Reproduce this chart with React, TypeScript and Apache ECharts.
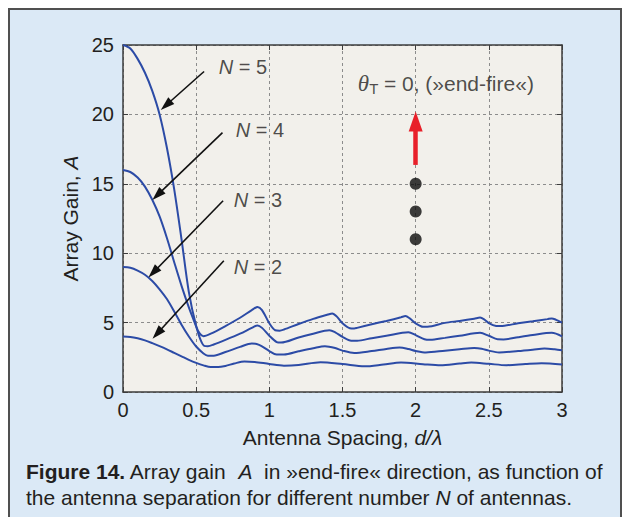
import React, { useEffect, useRef } from "react";
import * as echarts from "echarts";

// ---------- data ----------
const xTicks = [0, 0.5, 1, 1.5, 2, 2.5, 3];
const yTicks = [0, 5, 10, 15, 20, 25];

const gainN5: [number, number][] = [
  [0, 25], [0.05, 24.75], [0.1, 24.0], [0.15, 23.0], [0.2, 21.7], [0.25, 20.0], [0.3, 17.6],
  [0.35, 14.6], [0.4, 11.0], [0.45, 7.2], [0.5, 4.75], [0.525, 4.2], [0.55, 4.02], [0.6, 4.2],
  [0.7, 4.75], [0.8, 5.35], [0.88, 5.9], [0.92, 6.13], [0.95, 5.9], [1.0, 4.95], [1.04, 4.45],
  [1.07, 4.42], [1.1, 4.5], [1.2, 4.9], [1.3, 5.27], [1.4, 5.58], [1.43, 5.66], [1.46, 5.45],
  [1.5, 4.95], [1.55, 4.6], [1.58, 4.58], [1.6, 4.62], [1.7, 4.88], [1.8, 5.12], [1.9, 5.38],
  [1.93, 5.47], [1.96, 5.3], [2.0, 4.95], [2.05, 4.7], [2.08, 4.7], [2.2, 4.98], [2.3, 5.12],
  [2.4, 5.28], [2.44, 5.36], [2.47, 5.22], [2.5, 4.97], [2.55, 4.76], [2.58, 4.75], [2.7, 4.95],
  [2.8, 5.1], [2.9, 5.25], [2.93, 5.3], [2.96, 5.2], [3.0, 5.0],
];
const gainN4: [number, number][] = [
  [0, 16], [0.05, 15.85], [0.1, 15.45], [0.15, 14.8], [0.2, 13.85], [0.25, 12.65], [0.3, 11.1],
  [0.35, 9.35], [0.4, 7.65], [0.45, 6.1], [0.5, 4.7], [0.53, 3.75], [0.555, 3.32], [0.58, 3.3],
  [0.62, 3.42], [0.7, 3.75], [0.8, 4.2], [0.88, 4.62], [0.92, 4.8], [0.95, 4.62], [1.0, 4.05],
  [1.05, 3.6], [1.08, 3.56], [1.2, 3.93], [1.3, 4.2], [1.41, 4.45], [1.45, 4.3], [1.5, 3.97],
  [1.56, 3.7], [1.6, 3.7], [1.7, 3.88], [1.8, 4.05], [1.95, 4.3], [2.0, 4.1], [2.06, 3.8],
  [2.1, 3.76], [2.2, 3.9], [2.3, 4.05], [2.44, 4.26], [2.5, 4.05], [2.56, 3.8], [2.6, 3.79],
  [2.7, 3.95], [2.8, 4.1], [2.93, 4.26], [3.0, 4.0],
];
const gainN3: [number, number][] = [
  [0, 9], [0.05, 8.95], [0.1, 8.75], [0.15, 8.45], [0.2, 8.0], [0.25, 7.4], [0.3, 6.7],
  [0.35, 5.8], [0.4, 4.85], [0.45, 4.0], [0.5, 3.28], [0.55, 2.78], [0.58, 2.62], [0.62, 2.62],
  [0.7, 2.88], [0.8, 3.25], [0.88, 3.5], [0.93, 3.4], [1.0, 2.95], [1.05, 2.7], [1.1, 2.7],
  [1.2, 2.93], [1.3, 3.15], [1.38, 3.3], [1.45, 3.17], [1.5, 2.98], [1.58, 2.81], [1.7, 2.95],
  [1.8, 3.1], [1.89, 3.2], [1.95, 3.1], [2.0, 2.96], [2.07, 2.85], [2.2, 2.98], [2.3, 3.08],
  [2.4, 3.17], [2.45, 3.12], [2.5, 2.98], [2.57, 2.85], [2.7, 2.95], [2.8, 3.05], [2.88, 3.14],
  [2.95, 3.08], [3.0, 3.0],
];
const gainN2: [number, number][] = [
  [0, 4.0], [0.05, 3.97], [0.1, 3.87], [0.15, 3.72], [0.2, 3.52], [0.25, 3.3], [0.3, 3.07],
  [0.35, 2.82], [0.4, 2.57], [0.45, 2.32], [0.5, 2.1], [0.55, 1.92], [0.6, 1.8], [0.65, 1.8],
  [0.7, 1.88], [0.76, 2.05], [0.83, 2.2], [0.9, 2.17], [1.0, 2.02], [1.1, 1.9], [1.2, 1.95],
  [1.35, 2.15], [1.5, 2.02], [1.65, 1.85], [1.78, 1.98], [1.9, 2.12], [2.05, 2.0], [2.17, 1.92],
  [2.3, 2.05], [2.38, 2.12], [2.5, 2.03], [2.62, 1.93], [2.75, 2.02], [2.86, 2.08], [3.0, 1.98],
];

const seriesN = [5, 4, 3, 2];
const seriesData = [gainN5, gainN4, gainN3, gainN2];

// antenna dots (x = 2)
const dotsX = [2, 2, 2];
const dotsY = [15, 13, 11];

// annotation anchors (data coordinates)
const labelAnchors: [number, number][] = [
  [0.655, 23.43], [0.771, 18.88], [0.757, 13.83], [0.757, 9.0],
];
const arrowTails: [number, number][] = [
  [0.554, 23.09], [0.68, 18.69], [0.684, 13.78], [0.689, 9.45],
];
const arrowHeads: [number, number][] = [
  [0.294, 20.66], [0.235, 14.18], [0.207, 8.61], [0.234, 4.21],
];
const steerTail: [number, number] = [2, 16.36];
const steerHead: [number, number] = [2, 19.48];
const steerTextAnchor: [number, number] = [1.605, 22.2];

// ---------- styles ----------
const FONT = "'Liberation Sans', Arial, Helvetica, sans-serif";
const INK = "#231f20";
const AXIS = "#3c3c3c";
const BLUE = "#2c4ba6";

export default function App() {
  const ref = useRef<HTMLDivElement>(null);

  useEffect(() => {
    const chart = echarts.init(ref.current!, null, { renderer: "svg" });

    const axisCommon = {
      type: "value" as const,
      axisLine: { show: true, onZero: false, lineStyle: { color: AXIS, width: 1.5 } },
      axisTick: { show: true, inside: true, length: 5, lineStyle: { color: AXIS, width: 1 } },
    };

    const option: any = {
      animation: false,
      backgroundColor: "transparent",
      textStyle: { fontFamily: FONT },
      grid: {
        left: 123,
        right: 64,
        top: 45,
        bottom: 125,
        show: true,
        backgroundColor: "#f2f0eb",
        borderWidth: 0,
      },
      xAxis: [
        {
          ...axisCommon,
          position: "bottom",
          min: xTicks[0],
          max: xTicks[xTicks.length - 1],
          interval: 0.5,
          axisLabel: { fontSize: 20, color: INK, margin: 8, fontFamily: FONT },
          splitLine: { show: true, lineStyle: { color: "#8c8c8c", type: [3, 3], width: 1 } },
          name: "Antenna Spacing, {i|d/λ}",
          nameLocation: "middle",
          nameGap: 35,
          nameTextStyle: {
            fontSize: 21,
            color: INK,
            fontFamily: FONT,
            rich: { i: { fontSize: 21, fontStyle: "italic", color: INK, fontFamily: FONT } },
          },
        },
        {
          ...axisCommon,
          position: "top",
          min: xTicks[0],
          max: xTicks[xTicks.length - 1],
          interval: 0.5,
          axisLabel: { show: false },
          splitLine: { show: false },
        },
      ],
      yAxis: [
        {
          ...axisCommon,
          position: "left",
          min: yTicks[0],
          max: yTicks[yTicks.length - 1],
          interval: 5,
          axisLabel: { fontSize: 20, color: INK, margin: 9, fontFamily: FONT },
          splitLine: { show: true, lineStyle: { color: "#8c8c8c", type: [3, 3], width: 1 } },
          name: "Array Gain, {i|A}",
          nameLocation: "middle",
          nameGap: 35,
          nameTextStyle: {
            fontSize: 21,
            color: INK,
            fontFamily: FONT,
            rich: { i: { fontSize: 21, fontStyle: "italic", color: INK, fontFamily: FONT } },
          },
        },
        {
          ...axisCommon,
          position: "right",
          min: yTicks[0],
          max: yTicks[yTicks.length - 1],
          interval: 5,
          axisLabel: { show: false },
          splitLine: { show: false },
        },
      ],
      series: [
        ...seriesData.map((d, i) => ({
          name: `N = ${seriesN[i]}`,
          type: "line",
          data: d,
          showSymbol: false,
          smooth: 0.3,
          lineStyle: { color: BLUE, width: 2 },
          silent: true,
          z: 3,
        })),
        {
          name: "antennas",
          type: "scatter",
          data: dotsX.map((x, i) => [x, dotsY[i]]),
          symbol: "circle",
          symbolSize: 12,
          itemStyle: { color: "#0d0d0d" },
          silent: true,
          z: 4,
          markLine: {
            silent: true,
            animation: false,
            symbol: ["none", "triangle"],
            symbolSize: [9, 14],
            label: { show: false },
            emphasis: { disabled: true },
            lineStyle: { color: "#111", width: 1.6, type: "solid" },
            itemStyle: { color: "#111" },
            data: arrowTails.map((t, i) => [{ coord: t }, { coord: arrowHeads[i] }]),
          },
        },
        {
          name: "labels",
          type: "scatter",
          symbolSize: 0,
          silent: true,
          z: 5,
          data: [
            ...labelAnchors.map((p, i) => ({ value: p, txt: `{i|N} = ${seriesN[i]}` })),
            { value: steerTextAnchor, txt: "{th|θ}{sub|T} {big|= 0, (»end-fire«)}" },
          ],
          label: {
            show: true,
            position: "right",
            distance: 0,
            formatter: (p: any) => p.data.txt,
            fontSize: 20,
            lineHeight: 24,
            color: INK,
            fontFamily: FONT,
            rich: {
              i: { fontSize: 20, lineHeight: 24, fontStyle: "italic", color: INK, fontFamily: FONT },
              big: { fontSize: 21, lineHeight: 24, color: INK, fontFamily: FONT },
              th: {
                fontSize: 23,
                lineHeight: 24,
                fontStyle: "italic",
                color: INK,
                fontFamily: "'Liberation Serif', 'Times New Roman', serif",
              },
              sub: { fontSize: 15, lineHeight: 14, verticalAlign: "bottom", color: INK, fontFamily: FONT },
            },
          },
          markLine: {
            silent: true,
            animation: false,
            symbol: ["none", "triangle"],
            symbolSize: [14, 20],
            label: { show: false },
            emphasis: { disabled: true },
            lineStyle: { color: "#e8202a", width: 4.5, type: "solid" },
            itemStyle: { color: "#e8202a" },
            data: [[{ coord: steerTail }, { coord: steerHead }]],
          },
        },
      ],
      graphic: [
        {
          type: "text",
          left: 26,
          top: 458,
          silent: true,
          style: {
            text:
              "{b|Figure 14.} Array gain  {i|A}  in »end-fire« direction, as function of\nthe antenna separation for different number {i|N} of antennas.",
            fontSize: 21,
            lineHeight: 26,
            fill: INK,
            fontFamily: FONT,
            rich: {
              b: { fontSize: 21, lineHeight: 26, fontWeight: "bold", fill: INK, fontFamily: FONT },
              i: { fontSize: 21, lineHeight: 26, fontStyle: "italic", fill: INK, fontFamily: FONT },
            },
          },
        },
      ],
    };

    chart.setOption(option);
    return () => chart.dispose();
  }, []);

  return (
    <div
      style={{
        position: "fixed",
        left: 0,
        top: 0,
        width: 626,
        height: 517,
        background: "#ffffff",
        overflow: "hidden",
      }}
    >
      <div
        style={{
          position: "absolute",
          left: 8,
          top: 8,
          width: 610,
          height: 530,
          background: "#dbe9f6",
          border: "2px solid #505050",
        }}
      />
      <div ref={ref} style={{ position: "absolute", left: 0, top: 0, width: 626, height: 517 }} />
    </div>
  );
}
